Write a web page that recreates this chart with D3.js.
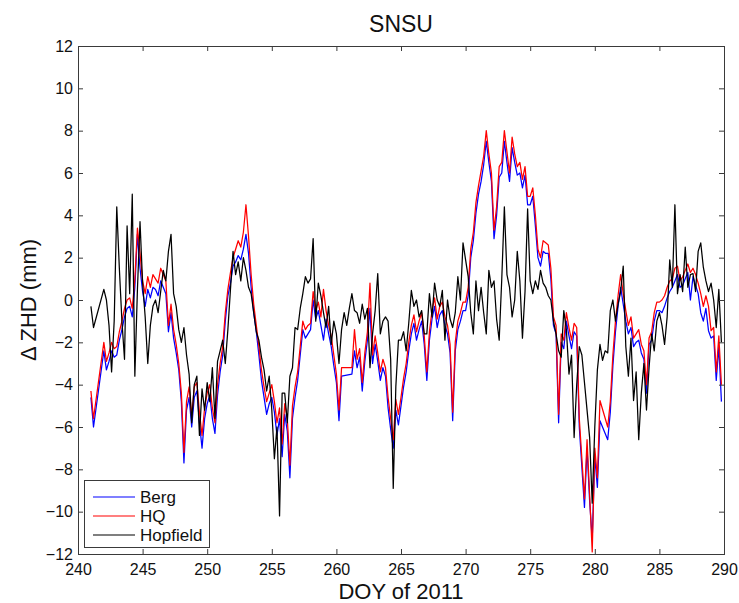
<!DOCTYPE html>
<html>
<head>
<meta charset="utf-8">
<script src="https://cdn.jsdelivr.net/npm/d3@7"></script>
<style>
  html, body { margin: 0; padding: 0; background: #fff; }
  svg { display: block; font-family: "Liberation Sans", Arial, Helvetica, sans-serif; }
</style>
</head>
<body>
<svg id="chart" width="739" height="603"></svg>
<script>
// Day-of-year sampling: every 0.2 day from DOY 241.0 to 289.8
const doyStart = 241;
const doyStep = 0.2;

// ΔZHD (mm) per sample, five samples per day; null = no data
const berg = [
  -4.6, -6.0, null, null, null,      // 241
  -2.4, -3.3, -2.9, -2.4, -2.7,      // 242
  -2.6, -1.9, -1.4, -0.8, -0.4,      // 243
  -0.3, -0.8, 0.6, 3.1, 1.5,         // 244
  0.4, -0.3, 0.5, 0.1, 0.6,          // 245
  0.5, 0.2, 0.9, 0.6, 0.3,           // 246
  -1.5, -0.6, -1.8, -2.5, -3.3,      // 247
  -4.8, -7.7, -5.2, -4.6, -6.0,      // 248
  -4.6, -4.3, -5.8, -7.0, -5.6,      // 249
  -4.9, -4.5, -5.6, -6.3, -4.5,      // 250
  -3.4, -2.6, -1.0, 0.2, 0.8,        // 251
  1.6, 1.8, 2.1, 1.9, 2.4,           // 252
  3.1, 2.2, 0.6, -0.6, -1.5,         // 253
  -2.6, -3.8, -4.6, -5.4, -4.9,      // 254
  -4.6, -5.3, -6.4, -5.6, -7.4,      // 255
  -5.4, -6.2, -8.4, -5.6, -4.6,      // 256
  -3.8, -2.6, -1.4, -1.8, -1.6,      // 257
  -1.4, 0.0, -0.9, -0.5, -1.2,       // 258
  -1.9, -0.9, -1.6, -2.2, -3.1,      // 259
  -3.9, -5.7, -3.6, null, null,      // 260
  null, -3.5, -2.4, -3.2, -2.7,      // 261
  -4.3, -2.9, -1.9, -0.4, -3.0,      // 262
  -2.1, -2.9, -3.8, -3.2, -3.6,      // 263
  -5.1, -6.1, -7.0, -5.2, -5.9,      // 264
  -5.0, -4.1, -3.4, -2.4, -1.6,      // 265
  -1.1, -1.9, -1.4, -1.0, -2.1,      // 266
  -3.8, -1.9, -0.9, -0.3, -1.3,      // 267
  -0.7, -0.5, -1.2, -1.6, -2.5,      // 268
  -5.7, -2.4, -1.4, -1.0, -0.5,      // 269
  -0.5, 0.2, 2.0, 2.8, 4.1,          // 270
  5.0, 5.6, 6.4, 7.5, 6.5,           // 271
  5.6, 2.9, 4.0, 5.8, 6.0,           // 272
  7.5, 6.5, 5.6, 7.2, 6.5,           // 273
  5.9, 6.0, 5.3, 5.9, 4.5,           // 274
  4.5, 4.9, 3.5, 2.0, 1.6,           // 275
  2.3, 2.2, 2.2, 1.0, -1.2,          // 276
  -1.6, -5.8, -2.0, -2.3, -1.0,      // 277
  -1.7, -2.3, -1.5, -1.7, -6.0,      // 278
  -7.9, -9.8, -7.0, -9.5, -11.3,     // 279
  -7.4, -8.85, -5.7, null, null,     // 280
  -6.6, -5.3, -3.1, -1.5, -0.3,      // 281
  0.6, -0.2, -1.0, -1.6, -1.3,       // 282
  -2.2, -2.0, -1.9, -2.5, -2.8,      // 283
  -4.4, -2.1, -1.9, -1.0, -0.5,      // 284
  -0.5, -0.6, -0.3, 0.1, 0.4,        // 285
  0.6, 0.9, 1.2, 0.6, 0.7,           // 286
  1.0, 1.3, 0.0, 1.1, 0.7,           // 287
  0.3, -0.6, -1.0, -0.4, -1.45,      // 288
  -1.8, -1.7, -3.8, -2.2, -4.8       // 289
];

const hq = [
  -4.3, -5.6, null, null, null,      // 241
  -2.0, -2.9, -2.5, -2.0, -2.3,      // 242
  -2.2, -1.5, -1.0, -0.4, 0.0,       // 243
  0.1, -0.4, 1.0, 3.4, 2.2,          // 244
  0.9, 0.3, 1.1, 0.6, 1.2,           // 245
  1.0, 0.8, 1.5, 1.2, 0.9,           // 246
  -1.2, -0.2, -1.4, -2.1, -3.0,      // 247
  -4.4, -7.2, -4.8, -4.1, -5.5,      // 248
  -4.1, -3.9, -5.3, -6.4, -5.1,      // 249
  -4.4, -4.0, -5.1, -5.8, -4.0,      // 250
  -3.0, -2.2, -0.6, 0.5, 1.3,        // 251
  2.0, 2.4, 2.8, 2.5, 3.2,           // 252
  4.5, 3.0, 1.2, -0.2, -1.2,         // 253
  -2.2, -3.3, -4.1, -4.8, -4.4,      // 254
  -4.0, -4.8, -5.8, -5.1, -6.8,      // 255
  -4.9, -5.6, -7.8, -5.0, -4.1,      // 256
  -3.4, -2.2, -1.0, -1.4, -1.2,      // 257
  -1.1, 0.4, -0.5, -0.1, -0.8,       // 258
  0.5, -0.5, -1.2, -1.7, -2.6,       // 259
  -3.5, -5.2, -3.2, null, null,      // 260
  null, -3.2, -1.4, -2.8, -2.3,      // 261
  -3.9, -2.5, -1.5, 0.8, -2.6,       // 262
  -1.7, -2.5, -3.4, -2.8, -3.2,      // 263
  -4.6, -5.6, -6.6, -4.7, -5.4,      // 264
  -4.6, -3.7, -3.0, -2.0, -1.2,      // 265
  -0.7, -1.5, -1.0, -0.6, -1.7,      // 266
  -3.4, -1.5, -0.5, 0.1, -0.9,       // 267
  -0.3, -0.1, -0.8, -1.2, -2.1,      // 268
  -5.3, -2.0, -1.0, -0.6, -0.1,      // 269
  -0.1, 0.6, 2.4, 3.2, 4.6,          // 270
  5.4, 6.1, 6.8, 8.0, 6.9,           // 271
  6.0, 3.3, 4.4, 6.3, 6.5,           // 272
  8.0, 7.0, 6.0, 7.7, 6.9,           // 273
  6.3, 6.5, 5.7, 6.3, 4.9,           // 274
  4.9, 5.3, 4.0, 2.4, 2.0,           // 275
  2.8, 2.7, 2.6, 1.5, -0.8,          // 276
  -1.2, -5.4, -1.6, -1.9, -0.6,      // 277
  -1.3, -1.9, -1.1, -1.3, -5.6,      // 278
  -7.5, -9.4, -6.6, -9.2, -11.9,     // 279
  -7.0, -8.4, -4.75, null, null,     // 280
  -6.0, -4.8, -2.6, -1.0, 0.2,       // 281
  1.2, 0.3, -0.5, -1.2, -0.8,        // 282
  -1.8, -1.6, -1.4, -2.1, -2.4,      // 283
  -4.0, -1.8, -1.5, -0.6, -0.1,      // 284
  -0.1, 0.0, 0.2, 0.6, 0.9,          // 285
  1.0, 1.5, 1.6, 0.9, 1.1,           // 286
  1.4, 1.7, 1.3, 1.5, 1.2,           // 287
  0.8, 0.3, -0.3, 0.2, -0.3,         // 288
  -1.45, -1.3, -3.4, -1.7, -4.0      // 289
];

const hopfield = [
  -0.3, -1.3, null, null, null,      // 241
  0.5, 0.0, -1.2, -3.4, -1.0,        // 242
  4.4, 1.5, -1.0, -2.8, 3.5,         // 243
  0.3, 5.0, -3.6, 0.5, 3.7,          // 244
  0.8, -0.8, -3.0, -1.2, -0.3,       // 245
  0.0, -0.6, 0.4, 1.4, 0.9,          // 246
  2.3, 3.1, 0.3, -0.3, -1.4,         // 247
  -2.0, -1.3, -2.6, -3.5, -5.8,      // 248
  -4.0, -3.6, -6.4, -4.2, -5.2,      // 249
  -3.9, -4.8, -3.2, -5.6, -2.9,      // 250
  -2.4, -1.9, -3.0, -1.4, 0.5,       // 251
  2.3, 1.2, 1.8, 0.9, 2.0,           // 252
  1.4, 0.6, 0.3, -0.6, -1.5,         // 253
  -1.9, -2.7, -3.3, -4.3, -3.6,      // 254
  -5.2, -7.5, -6.0, -10.2, -4.4,     // 255
  -4.4, -5.8, -3.6, -3.2, -1.3,      // 256
  -1.4, -0.4, 0.3, 1.1, 0.8,         // 257
  1.0, 2.9, -1.0, 0.8, 0.2,          // 258
  -0.6, -1.3, -0.3, -2.1, -1.0,      // 259
  -1.6, -3.0, -1.4, -0.6, -1.2,      // 260
  -0.4, 0.3, -0.5, -0.6, -1.1,       // 261
  -0.2, -0.9, -0.4, -3.2, -1.6,      // 262
  -0.5, 1.25, -1.6, -1.0, -0.8,      // 263
  -1.0, -2.8, -8.9, -4.1, -1.9,      // 264
  -1.9, -1.5, -2.4, -1.1, 0.45,      // 265
  -0.3, 0.0, -0.8, -0.5, -1.6,       // 266
  -1.6, 0.3, -0.8, 0.8, 0.0,         // 267
  -0.3, 0.45, -1.9, 0.0, -0.9,       // 268
  -1.3, -0.6, 1.1, 0.0, 2.7,         // 269
  1.9, 1.1, -0.6, -1.6, 0.9,         // 270
  -0.5, 0.6, -0.6, -1.6, 1.4,        // 271
  0.6, 0.9, -0.9, -1.9, 1.0,         // 272
  4.4, 1.2, 0.6, -0.8, 0.0,          // 273
  2.3, 0.9, -1.8, 0.4, 4.3,          // 274
  0.9, 0.3, 0.9, 0.5, 1.4,           // 275
  0.8, 0.6, 0.2, 0.0, -1.0,          // 276
  -1.6, -2.4, -2.7, -0.5, -1.4,      // 277
  -3.5, -2.6, -6.5, -4.0, -2.2,      // 278
  -2.6, -3.9, -5.2, -6.5, -9.6,      // 279
  -6.0, -3.3, -2.1, -2.85, -2.4,     // 280
  -2.5, -0.5, 0.0, -1.0, -0.2,       // 281
  0.4, 1.6, -2.2, -3.6, -1.8,        // 282
  -4.75, -3.4, -6.6, -4.4, -3.0,     // 283
  -5.2, -3.2, -1.6, -2.4, -1.0,      // 284
  -0.6, -1.2, -2.1, -0.8, 1.9,       // 285
  0.6, 4.5, 0.3, 1.2, 0.4,           // 286
  2.5, 0.6, 1.2, 1.25, 0.4,          // 287
  2.3, 2.7, 1.55, 0.9, 0.4,          // 288
  0.8, 0.0, -1.3, 0.5, -2.0          // 289
];

const xTicks = [240, 245, 250, 255, 260, 265, 270, 275, 280, 285, 290];
const yTicks = [-12, -10, -8, -6, -4, -2, 0, 2, 4, 6, 8, 10, 12];

const seriesNames = ["Berg", "HQ", "Hopfield"];
const seriesColors = ["#0000ff", "#ff0000", "#000000"];

const doy = berg.map((_, i) => +(doyStart + i * doyStep).toFixed(1));

const svg = d3.select("#chart");
const plotLeft = 78, plotRight = 724, plotTop = 46, plotBottom = 554;

const x = d3.scaleLinear().domain([240, 290]).range([plotLeft, plotRight]);
const y = d3.scaleLinear().domain([-12, 12]).range([plotBottom, plotTop]);

const axisColor = "#3a3a3a";
const minus = d => (d < 0 ? "\u2212" + Math.abs(d) : String(d));

// Series lines (samples with no data are skipped, so the line bridges the gap)
const line = d3.line().x(d => x(d[0])).y(d => y(d[1]));
[berg, hq, hopfield].forEach((vals, k) => {
  const pts = doy.map((d, i) => [d, vals[i]]).filter(p => p[1] !== null);
  svg.append("path")
    .datum(pts)
    .attr("fill", "none")
    .attr("stroke", seriesColors[k])
    .attr("stroke-width", 1.25)
    .attr("stroke-linejoin", "round")
    .attr("d", line);
});

// Axes: MATLAB-style box with inward ticks on all four sides
function styleAxis(g) {
  g.select(".domain").remove();
  g.selectAll(".tick line").attr("stroke", axisColor);
  g.selectAll(".tick text").attr("fill", "#111").attr("font-size", 16)
    .attr("font-family", "'Liberation Sans', Arial, Helvetica, sans-serif");
}

svg.append("g").attr("transform", `translate(0,${plotBottom})`)
  .call(d3.axisBottom(x).tickValues(xTicks).tickSize(-5).tickPadding(10).tickFormat(d3.format("d")))
  .call(styleAxis);
svg.append("g").attr("transform", `translate(0,${plotTop})`)
  .call(d3.axisTop(x).tickValues(xTicks).tickSize(-5).tickFormat(""))
  .call(styleAxis);
svg.append("g").attr("transform", `translate(${plotLeft},0)`)
  .call(d3.axisLeft(y).tickValues(yTicks).tickSize(-5).tickPadding(5).tickFormat(minus))
  .call(styleAxis);
svg.append("g").attr("transform", `translate(${plotRight},0)`)
  .call(d3.axisRight(y).tickValues(yTicks).tickSize(-5).tickFormat(""))
  .call(styleAxis);

svg.append("rect")
  .attr("x", plotLeft).attr("y", plotTop)
  .attr("width", plotRight - plotLeft).attr("height", plotBottom - plotTop)
  .attr("fill", "none").attr("stroke", axisColor).attr("stroke-width", 1)
  .attr("shape-rendering", "crispEdges");

// Title and axis labels
svg.append("text")
  .attr("x", (plotLeft + plotRight) / 2).attr("y", 32)
  .attr("text-anchor", "middle").attr("font-size", 23).attr("fill", "#111")
  .text("SNSU");

svg.append("text")
  .attr("x", (plotLeft + plotRight) / 2).attr("y", 599)
  .attr("text-anchor", "middle").attr("font-size", 22).attr("fill", "#111")
  .text("DOY of 2011");

svg.append("text")
  .attr("transform", `translate(36,${(plotTop + plotBottom) / 2}) rotate(-90)`)
  .attr("text-anchor", "middle").attr("font-size", 22).attr("fill", "#111")
  .text("\u0394 ZHD (mm)");

// Legend
const legend = svg.append("g");
legend.append("rect")
  .attr("x", 84).attr("y", 480).attr("width", 125).attr("height", 67)
  .attr("fill", "#fff").attr("stroke", axisColor).attr("stroke-width", 1)
  .attr("shape-rendering", "crispEdges");
seriesNames.forEach((name, k) => {
  const ly = 497 + k * 19;
  legend.append("line")
    .attr("x1", 93).attr("x2", 135).attr("y1", ly).attr("y2", ly)
    .attr("stroke", seriesColors[k]).attr("stroke-width", 1.1);
  legend.append("text")
    .attr("x", 140).attr("y", ly).attr("dy", "0.36em")
    .attr("font-size", 17).attr("fill", "#111")
    .text(name);
});
</script>
</body>
</html>
